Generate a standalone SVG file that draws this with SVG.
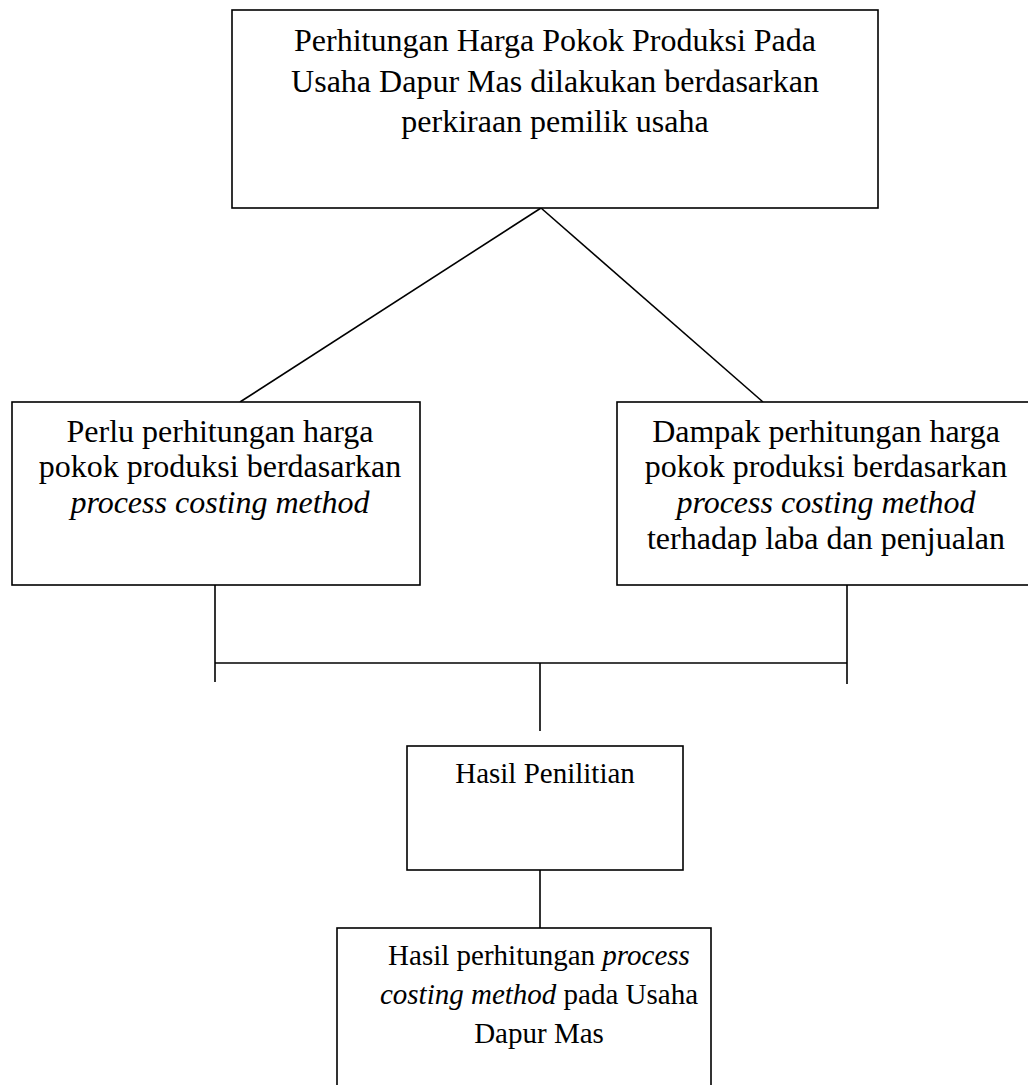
<svg xmlns="http://www.w3.org/2000/svg" width="1028" height="1085" viewBox="0 0 1028 1085">
<style>
.box{fill:#fff;stroke:#000;stroke-width:1.6}
.ln{fill:none;stroke:#000;stroke-width:1.6}
text{font-family:"Liberation Serif","Times New Roman",serif;fill:#000;text-anchor:middle}
.t32{font-size:32px}
.t29{font-size:29px}
.i{font-style:italic}
</style>
<rect width="1028" height="1085" fill="#fff"/>
<g id="connectors">
<line class="ln" x1="541" y1="208" x2="240" y2="402"/>
<line class="ln" x1="541" y1="208" x2="763" y2="402"/>
<line class="ln" x1="215" y1="585" x2="215" y2="682"/>
<line class="ln" x1="847" y1="585" x2="847" y2="684"/>
<line class="ln" x1="215" y1="663" x2="847" y2="663"/>
<line class="ln" x1="540" y1="663" x2="540" y2="731"/>
<line class="ln" x1="540" y1="870" x2="540" y2="928"/>
</g>
<g id="top">
<rect class="box" x="232" y="10" width="646" height="198"/>
<text class="t32" x="555" y="51">Perhitungan Harga Pokok Produksi Pada</text>
<text class="t32" x="555" y="92">Usaha Dapur Mas dilakukan berdasarkan</text>
<text class="t32" x="555" y="132">perkiraan pemilik usaha</text>
</g>
<g id="left">
<rect class="box" x="12" y="402" width="408" height="183"/>
<text class="t32" x="220" y="442">Perlu perhitungan harga</text>
<text class="t32" x="220" y="477">pokok produksi berdasarkan</text>
<text class="t32 i" x="220" y="513">process costing method</text>
</g>
<g id="right">
<rect class="box" x="617" y="402" width="420" height="183"/>
<text class="t32" x="826" y="442">Dampak perhitungan harga</text>
<text class="t32" x="826" y="477">pokok produksi berdasarkan</text>
<text class="t32 i" x="826" y="513">process costing method</text>
<text class="t32" x="826" y="549">terhadap laba dan penjualan</text>
</g>
<g id="hasil">
<rect class="box" x="407" y="746" width="276" height="124"/>
<text class="t29" x="545" y="783">Hasil Penilitian</text>
</g>
<g id="bottom">
<rect class="box" x="337" y="928" width="374" height="170"/>
<text class="t29" x="539" y="965">Hasil perhitungan <tspan class="i">process</tspan></text>
<text class="t29" x="539" y="1004"><tspan class="i">costing method</tspan> pada Usaha</text>
<text class="t29" x="539" y="1043">Dapur Mas</text>
</g>
</svg>
